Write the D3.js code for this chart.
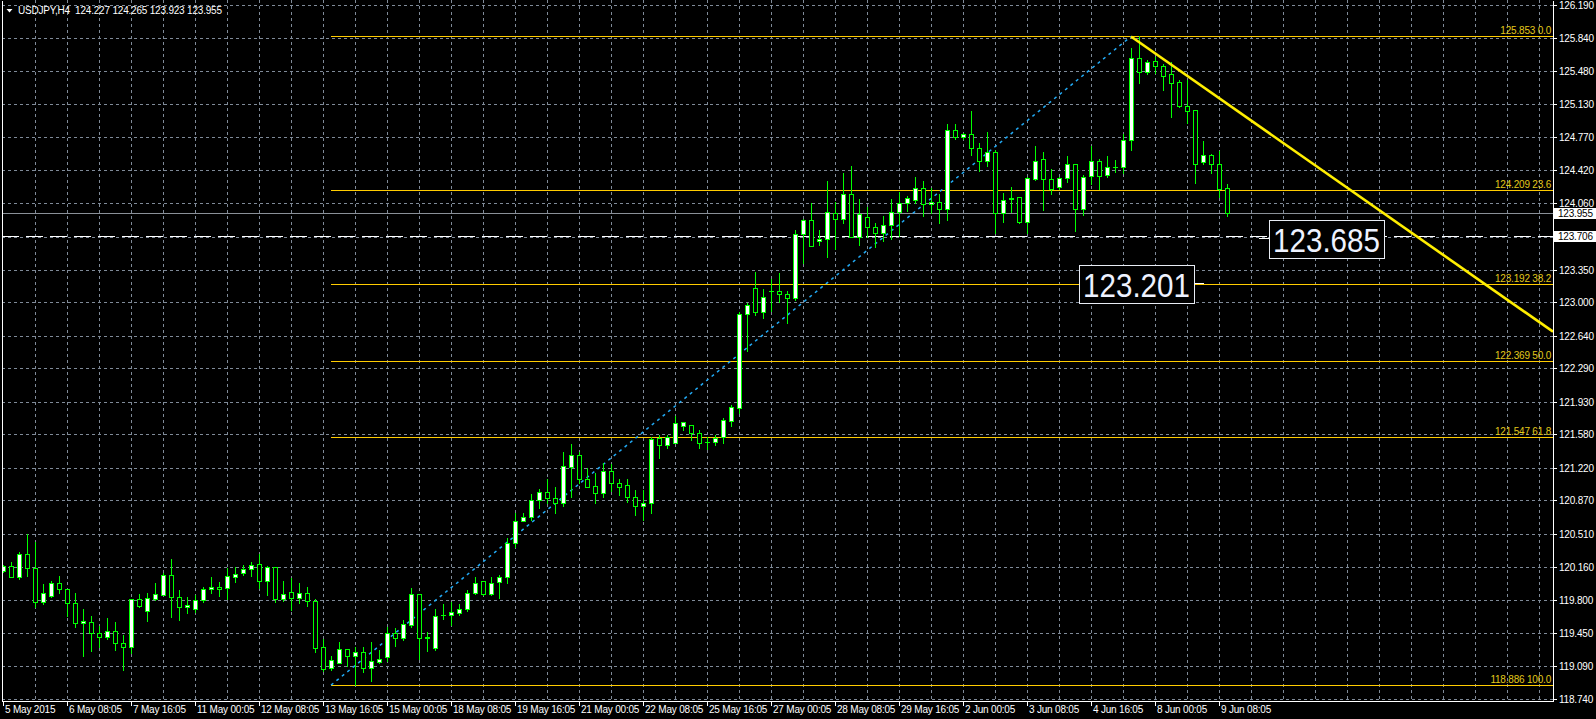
<!DOCTYPE html>
<html><head><meta charset="utf-8">
<script src="https://cdn.jsdelivr.net/npm/d3@7/dist/d3.min.js"></script>
<style>html,body{margin:0;padding:0;background:#000;overflow:hidden}text{font-family:"Liberation Sans",Arial,sans-serif}</style>
</head><body><svg id="c" width="1596" height="719"></svg>
<script>
// ---- data (USDJPY H4) ----
const opens=[120.108,120.165,120.051,120.290,120.140,119.782,119.846,119.979,119.915,119.764,119.549,119.567,119.442,119.399,119.463,119.342,119.299,119.807,119.685,119.811,119.857,120.065,119.836,119.721,119.700,119.800,119.915,119.936,119.925,120.051,120.086,120.129,120.183,120.008,120.151,119.807,119.882,119.825,119.871,119.786,119.292,119.066,119.127,119.270,119.202,119.238,119.066,119.138,119.184,119.442,119.388,119.535,119.861,119.399,119.281,119.635,119.635,119.664,119.700,119.871,120.000,119.861,119.990,120.043,120.409,120.652,120.695,120.874,120.960,120.892,120.838,121.232,121.358,121.096,121.025,120.946,121.186,121.053,121.035,120.910,120.810,120.838,121.537,121.465,121.490,121.673,121.676,121.590,121.501,121.501,121.555,121.726,121.866,122.869,123.148,122.897,123.123,123.119,123.087,123.048,123.728,123.882,123.653,123.674,123.953,123.889,124.157,123.696,123.910,123.803,123.746,123.825,123.964,124.068,124.097,124.222,124.050,124.079,123.996,124.848,124.773,124.802,124.651,124.519,124.608,123.953,124.111,124.125,123.864,124.326,124.533,124.319,124.233,124.329,124.480,123.996,124.354,124.519,124.362,124.451,124.447,124.737,125.618,125.475,125.586,125.539,125.450,125.360,125.110,125.060,124.508,124.576,124.480,124.227];
const highs=[120.176,120.212,120.312,120.505,120.423,119.972,120.004,120.058,119.922,119.871,119.703,119.628,119.521,119.607,119.564,119.424,119.814,119.864,119.871,119.983,120.093,120.237,119.907,119.836,119.854,119.936,120.043,119.993,120.140,120.158,120.172,120.208,120.290,120.165,120.158,120.004,120.033,119.983,119.936,119.814,119.377,119.199,119.345,119.270,119.299,119.295,119.345,119.263,119.514,119.496,119.585,119.925,119.861,119.460,119.703,119.753,119.782,119.757,119.907,120.043,120.000,120.043,120.068,120.462,120.731,120.738,120.939,120.989,121.096,121.017,121.393,121.476,121.393,121.214,121.161,121.268,121.261,121.096,121.096,120.982,120.982,121.547,121.572,121.572,121.777,121.716,121.683,121.626,121.547,121.572,121.752,121.891,122.897,122.994,123.323,123.137,123.244,123.316,123.119,123.774,123.889,124.061,123.774,124.301,124.079,124.390,124.462,124.104,124.025,123.853,123.925,124.104,124.182,124.140,124.340,124.297,124.229,124.161,124.913,124.913,124.820,125.053,124.705,124.831,124.634,124.175,124.233,124.132,124.347,124.677,124.616,124.430,124.347,124.569,124.487,124.365,124.677,124.533,124.569,124.526,124.802,125.726,125.853,125.600,125.636,125.557,125.582,125.386,125.386,125.067,124.730,124.587,124.623,124.265];
const lows=[120.097,120.050,120.029,120.058,119.728,119.757,119.829,119.879,119.628,119.514,119.202,119.256,119.299,119.377,119.263,119.048,119.234,119.728,119.578,119.800,119.850,119.614,119.585,119.664,119.671,119.778,119.871,119.843,119.807,119.997,120.068,120.058,119.929,119.854,119.782,119.789,119.693,119.764,119.736,119.245,119.041,119.048,119.120,119.095,118.890,119.030,118.935,119.120,119.145,119.306,119.370,119.514,119.170,119.256,119.263,119.592,119.531,119.635,119.685,119.864,119.854,119.854,119.825,119.986,120.373,120.645,120.659,120.792,120.846,120.731,120.810,120.910,121.053,121.010,120.846,120.910,120.975,120.928,120.857,120.713,120.660,120.738,121.322,121.429,121.483,121.626,121.519,121.429,121.422,121.465,121.490,121.669,121.812,122.478,122.861,122.826,122.908,123.005,122.772,123.022,123.423,123.603,123.613,123.488,123.567,123.853,123.696,123.613,123.696,123.595,123.660,123.674,123.710,123.982,124.061,123.925,123.960,123.853,123.882,124.748,124.755,124.580,124.412,124.465,123.746,123.864,123.971,123.846,123.746,124.311,123.989,124.161,124.215,124.294,123.767,123.935,124.265,124.215,124.347,124.401,124.390,124.634,125.357,125.450,125.457,125.278,124.992,125.092,124.920,124.283,124.483,124.390,124.132,123.923];
const closes=[120.165,120.051,120.290,120.140,119.782,119.871,119.979,119.915,119.764,119.549,119.578,119.442,119.399,119.463,119.342,119.299,119.807,119.739,119.818,119.861,120.065,119.836,119.721,119.743,119.800,119.915,119.936,119.915,120.054,120.076,120.129,120.172,120.008,120.151,119.814,119.861,119.825,119.871,119.793,119.281,119.062,119.156,119.270,119.202,119.238,119.066,119.141,119.163,119.442,119.388,119.539,119.861,119.388,119.395,119.625,119.636,119.667,119.700,119.871,119.979,119.861,119.986,120.043,120.409,120.652,120.688,120.874,120.957,120.892,120.838,121.239,121.358,121.096,121.017,120.946,121.186,121.053,121.017,120.910,120.810,120.838,121.526,121.465,121.547,121.705,121.708,121.590,121.490,121.494,121.544,121.730,121.870,122.869,122.965,122.897,123.051,123.119,123.083,123.048,123.728,123.882,123.606,123.678,123.968,123.889,124.157,123.696,123.943,123.803,123.746,123.825,123.964,124.061,124.114,124.222,124.050,124.075,123.996,124.848,124.770,124.802,124.651,124.519,124.608,123.953,124.093,124.122,123.864,124.333,124.515,124.319,124.215,124.329,124.480,123.996,124.340,124.519,124.354,124.447,124.447,124.737,125.618,125.475,125.575,125.539,125.432,125.357,125.106,125.056,124.480,124.576,124.480,124.215,123.955];
const timeLabels=["5 May 2015","6 May 08:05","7 May 16:05","11 May 00:05","12 May 08:05","13 May 16:05","15 May 00:05","18 May 08:05","19 May 16:05","21 May 00:05","22 May 08:05","25 May 16:05","27 May 00:05","28 May 08:05","29 May 16:05","2 Jun 00:05","3 Jun 08:05","4 Jun 16:05","8 Jun 00:05","9 Jun 08:05"];
const timeLabelBars=[0,8,16,24,32,40,48,56,64,72,80,88,96,104,112,120,128,136,144,152];
const priceTicks=[126.190,125.840,125.480,125.130,124.770,124.420,124.060,123.700,123.350,123.000,122.640,122.290,121.930,121.580,121.220,120.870,120.510,120.160,119.800,119.450,119.090,118.740];
const fibLevels=["0.0","23.6","38.2","50.0","61.8","100.0"];
const fibPrices=[125.853,124.209,123.192,122.369,121.547,118.886];
const fibBase={bar1:41,price1:118.886,bar2:141,price2:125.853};
const trendLine={bar1:141,price1:125.853,bar2:193.75,price2:122.682};
const bidPrice=123.955, hLinePrice=123.706;
const bigLabels=[{price:123.201,bar:150.125,side:"left"},{price:123.685,bar:157,side:"right"}];
const header="USDJPY,H4  124.227 124.265 123.923 123.955";

// ---- layout ----
const W=1596,H=719,L=2,R=1553,T=2,B=701;
const svg=d3.select("#c");
svg.append("rect").attr("width",W).attr("height",H).attr("fill","#000");
const x=d3.scaleLinear().domain([-0.125,193.75]).range([L,R]);
const y=d3.scaleLinear().domain([118.740,125.840]).range([698.7,37.7]);
const ry=p=>Math.round(y(p));
svg.append("clipPath").attr("id","pc").append("rect").attr("x",L).attr("y",0).attr("width",R-L).attr("height",B);
const plot=svg.append("g").attr("clip-path","url(#pc)");

// grid
const gridCol="#7f8a98";
const vBars=d3.range(4,193,4);
plot.append("g").attr("shape-rendering","crispEdges").selectAll("line").data(vBars).join("line")
 .attr("x1",d=>Math.round(x(d))+0.5).attr("x2",d=>Math.round(x(d))+0.5).attr("y1",0).attr("y2",B)
 .attr("stroke",gridCol).attr("stroke-dasharray","3,3").attr("stroke-width",1);
plot.append("g").attr("shape-rendering","crispEdges").selectAll("line").data(priceTicks).join("line")
 .attr("x1",L).attr("x2",R).attr("y1",d=>ry(d)+0.5).attr("y2",d=>ry(d)+0.5)
 .attr("stroke",gridCol).attr("stroke-dasharray","3,3").attr("stroke-width",1);

// fib horizontal lines
const fibCol="#ffcc00";
plot.append("g").attr("shape-rendering","crispEdges").selectAll("line").data(fibPrices).join("line")
 .attr("x1",Math.round(x(fibBase.bar1))).attr("x2",R).attr("y1",d=>ry(d)+0.5).attr("y2",d=>ry(d)+0.5)
 .attr("stroke",fibCol).attr("stroke-width",1);
plot.append("g").selectAll("text").data(fibPrices).join("text")
 .attr("x",R-2).attr("y",d=>ry(d)-2).attr("text-anchor","end").attr("font-size",10).attr("letter-spacing","-0.2")
 .attr("fill","#e2c81a").text((d,i)=>d.toFixed(3)+" "+fibLevels[i]);

// bid line & horizontal line
plot.append("line").attr("shape-rendering","crispEdges").attr("x1",L).attr("x2",R).attr("y1",ry(bidPrice)+0.5).attr("y2",ry(bidPrice)+0.5).attr("stroke","#8a9098");
plot.append("line").attr("shape-rendering","crispEdges").attr("x1",L).attr("x2",R).attr("y1",ry(hLinePrice)+0.5).attr("y2",ry(hLinePrice)+0.5)
 .attr("stroke","#ffffff").attr("stroke-dasharray","17,7");

// fib base dotted line
plot.append("line").attr("x1",x(fibBase.bar1)).attr("y1",y(fibBase.price1)).attr("x2",x(fibBase.bar2)).attr("y2",y(fibBase.price2))
 .attr("stroke","#22aaf5").attr("stroke-width",1.5).attr("stroke-dasharray","3,4");

// candles
const bars=d3.range(opens.length).map(i=>({i,o:opens[i],h:highs[i],l:lows[i],c:closes[i]}));
const cg=plot.append("g").attr("shape-rendering","crispEdges");
const green="#00ff00";
cg.selectAll("rect.w").data(bars).join("rect").attr("class","w")
 .attr("x",d=>Math.round(x(d.i))).attr("width",1)
 .attr("y",d=>ry(d.h)).attr("height",d=>Math.max(1,ry(d.l)-ry(d.h)+1)).attr("fill",green);
cg.selectAll("rect.b").data(bars).join("rect").attr("class","b")
 .attr("x",d=>Math.round(x(d.i))-2).attr("width",5)
 .attr("y",d=>ry(Math.max(d.o,d.c))).attr("height",d=>Math.max(1,ry(Math.min(d.o,d.c))-ry(Math.max(d.o,d.c))+1)).attr("fill",green);
cg.selectAll("rect.f").data(bars.filter(d=>ry(Math.min(d.o,d.c))-ry(Math.max(d.o,d.c))>=2)).join("rect").attr("class","f")
 .attr("x",d=>Math.round(x(d.i))-1).attr("width",3)
 .attr("y",d=>ry(Math.max(d.o,d.c))+1).attr("height",d=>ry(Math.min(d.o,d.c))-ry(Math.max(d.o,d.c))-1)
 .attr("fill",d=>d.c>=d.o?"#ffffff":"#000000");

// trend line
plot.append("line").attr("x1",x(trendLine.bar1)).attr("y1",y(trendLine.price1)).attr("x2",x(trendLine.bar2)).attr("y2",y(trendLine.price2))
 .attr("stroke","#ffee00").attr("stroke-width",2.6);

// big price labels
bigLabels.forEach(b=>{
  const ax=x(b.bar), ay=ry(b.price)+0.5, bw=115, bh=38;
  const bx = b.side==="left" ? ax-10-bw : ax+10;
  const tickX1 = b.side==="left" ? ax-10 : ax, tickX2 = b.side==="left"? ax : ax+10;
  svg.append("line").attr("x1",tickX1).attr("x2",tickX2).attr("y1",ay).attr("y2",ay).attr("stroke","#fff");
  svg.append("rect").attr("x",Math.round(bx)+0.5).attr("y",Math.round(ay-19)+0.5).attr("width",bw).attr("height",bh)
    .attr("fill","#000").attr("stroke","#e8ecf4").attr("stroke-width",1);
  svg.append("text").attr("x",bx+4).attr("y",ay+13.5).attr("font-size",34).attr("fill","#eef2ff")
    .attr("textLength",107).attr("lengthAdjust","spacingAndGlyphs").text(b.price.toFixed(3));
});

// frame (left, right, bottom)
svg.append("g").attr("shape-rendering","crispEdges").selectAll("line").data([[L,0,L,B],[R,0,R,B],[L,B,R,B]]).join("line")
 .attr("x1",d=>d[0]+0.5).attr("y1",d=>d[1]+0.5).attr("x2",d=>d[2]+0.5).attr("y2",d=>d[3]+0.5).attr("stroke","#fff");

// right axis
const ra=svg.append("g");
ra.selectAll("line").data(priceTicks).join("line").attr("x1",R).attr("x2",R+4).attr("y1",d=>ry(d)+0.5).attr("y2",d=>ry(d)+0.5).attr("stroke","#fff");
ra.selectAll("text").data(priceTicks).join("text").attr("x",R+6).attr("y",d=>ry(d)+4).attr("font-size",10).attr("letter-spacing","-0.2")
 .attr("fill","#fff").text(d=>d.toFixed(3));
[bidPrice,hLinePrice].forEach(p=>{
  const yy=ry(p);
  ra.append("rect").attr("x",R+1).attr("y",yy-5).attr("width",W-R-1).attr("height",11).attr("fill","#fff");
  ra.append("text").attr("x",R+5).attr("y",yy+4).attr("font-size",10).attr("letter-spacing","-0.2").attr("fill","#000").text(p.toFixed(3));
});

// bottom axis
const ba=svg.append("g");
ba.selectAll("line").data(timeLabelBars).join("line").attr("x1",d=>Math.round(x(d))+0.5).attr("x2",d=>Math.round(x(d))+0.5)
 .attr("y1",B).attr("y2",B+5).attr("stroke","#fff");
ba.selectAll("text").data(timeLabelBars).join("text").attr("x",d=>Math.round(x(d))+2).attr("y",713).attr("font-size",10)
 .attr("letter-spacing","-0.2").attr("fill","#fff").text((d,i)=>timeLabels[i]);

// header
svg.append("path").attr("d","M6.5,9 L12.5,9 L9.5,12.5 Z").attr("fill","#fff");
svg.append("text").attr("x",18).attr("y",14).attr("font-size",10).attr("letter-spacing","-0.2").attr("fill","#fff")
 .attr("xml:space","preserve").style("white-space","pre").text(header);
</script></body></html>
